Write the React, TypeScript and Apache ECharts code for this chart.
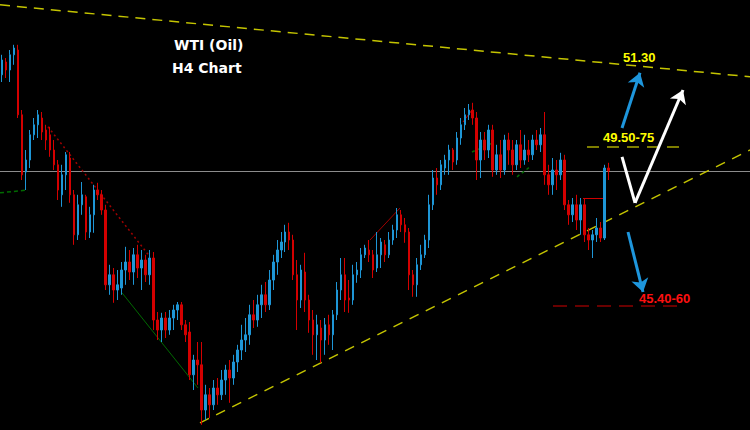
import React, { useEffect, useRef } from "react";
import * as echarts from "echarts";

// ---- candle slots (H4 bars) ----
const SLOT_COUNT = 188;
const categories = Array.from({ length: SLOT_COUNT }, (_, i) => String(i + 1));

// ---- price data (USD/bbl) ----
const opens = [
  51.43, 51.75, 51.55, 51.93, 52.05, 50.43, 49.0, 49.3, 49.93, 50.18,
  50.35, 50.05, 49.93, 49.55, 49.18, 48.43, 48.93, 49.35, 48.43, 47.43,
  48.18, 48.38, 47.5, 47.93, 48.55, 48.43, 48.05, 46.18, 46.43, 46.05,
  46.1, 46.55, 46.75, 46.5, 46.93, 46.6, 46.8, 46.43, 46.85, 45.3,
  45.05, 45.35, 45.05, 45.35, 45.55, 45.68, 45.18, 45.0, 43.93, 44.3,
  44.18, 43.05, 43.43, 43.18, 43.6, 43.43, 43.8, 44.05, 43.85, 44.25,
  44.55, 44.8, 44.93, 45.43, 45.3, 45.68, 45.93, 45.68, 46.3, 46.75,
  47.05, 47.25, 47.5, 47.3, 46.43, 45.8, 46.5, 45.8, 45.3, 44.93,
  45.1, 44.8, 45.18, 44.93, 45.43, 46.05, 46.43, 45.85, 45.8, 46.43,
  46.55, 46.93, 47.05, 46.93, 46.6, 46.93, 47.18, 46.93, 47.3, 47.55,
  47.93, 47.68, 47.5, 46.43, 46.18, 46.68, 46.93, 47.3, 48.18, 48.85,
  48.68, 49.1, 49.3, 49.55, 49.3, 49.85, 50.18, 50.43, 50.55, 50.35,
  49.3, 49.8, 49.55, 50.05, 49.05, 49.43, 49.05, 49.8, 49.55, 49.18,
  49.68, 49.3, 49.55, 49.43, 49.8, 49.68, 49.93, 48.93, 48.68, 49.05,
  48.93, 49.3, 48.18, 47.93, 48.18, 47.8, 48.18, 47.43, 47.3, 47.43,
  47.6, 47.35, 49.1,
];
const closes = [
  51.8, 51.55, 51.93, 52.1, 50.43, 48.93, 49.3, 49.93, 50.18, 50.43,
  50.0, 49.8, 49.55, 49.18, 48.55, 48.93, 49.43, 48.43, 47.43, 48.18,
  48.43, 47.5, 47.93, 48.55, 48.43, 48.05, 46.18, 46.43, 46.05, 46.18,
  46.55, 46.75, 46.5, 46.93, 46.6, 46.8, 46.43, 46.85, 45.3, 45.05,
  45.35, 45.05, 45.35, 45.55, 45.68, 45.18, 44.93, 43.93, 44.3, 44.18,
  43.05, 43.43, 43.18, 43.6, 43.43, 43.8, 44.05, 43.85, 44.25, 44.55,
  44.8, 44.93, 45.43, 45.3, 45.68, 45.93, 45.68, 46.3, 46.75, 47.05,
  47.25, 47.5, 47.3, 46.43, 45.8, 46.55, 45.8, 45.3, 44.93, 45.18,
  44.8, 45.18, 44.93, 45.43, 46.05, 46.43, 45.8, 45.8, 46.43, 46.55,
  46.93, 47.1, 46.93, 46.55, 46.93, 47.25, 46.93, 47.3, 47.55, 47.93,
  47.68, 47.5, 46.43, 46.18, 46.68, 46.93, 47.3, 48.18, 48.85, 48.68,
  49.18, 49.3, 49.55, 49.25, 49.85, 50.18, 50.43, 50.55, 50.35, 49.3,
  49.8, 49.55, 50.05, 49.05, 49.43, 49.05, 49.8, 49.55, 49.18, 49.68,
  49.3, 49.55, 49.43, 49.8, 49.68, 49.93, 48.93, 48.68, 49.05, 48.93,
  49.3, 48.18, 47.93, 48.18, 47.8, 48.18, 47.43, 47.3, 47.43, 47.6,
  47.35, 49.1, 49.03,
];
const lows = [
  51.25, 51.35, 51.25, 51.68, 50.35, 48.8, 48.55, 49.1, 49.8, 49.85,
  49.8, 49.55, 49.38, 49.05, 48.3, 48.13, 48.55, 48.23, 47.18, 47.3,
  47.93, 47.3, 47.35, 47.48, 48.3, 47.93, 46.05, 45.93, 45.73, 45.8,
  45.93, 46.18, 46.3, 46.18, 46.35, 46.05, 46.25, 46.18, 45.05, 44.8,
  44.75, 44.85, 44.93, 45.05, 45.3, 45.05, 44.75, 43.8, 43.55, 43.68,
  42.68, 42.8, 42.85, 43.05, 43.18, 43.3, 43.43, 43.23, 43.68, 44.0,
  44.3, 44.5, 44.68, 45.1, 45.13, 45.35, 45.5, 45.55, 46.05, 46.43,
  46.85, 47.0, 47.05, 46.3, 45.05, 45.6, 45.5, 44.98, 44.43, 44.3,
  44.23, 44.43, 44.68, 44.55, 45.3, 45.8, 45.5, 45.48, 45.68, 46.23,
  46.35, 46.85, 46.75, 46.35, 46.5, 46.6, 46.75, 46.85, 47.18, 47.35,
  47.5, 47.23, 46.05, 45.88, 45.88, 46.55, 46.85, 47.1, 48.05, 48.43,
  48.55, 48.93, 48.93, 49.05, 49.18, 49.68, 50.05, 50.3, 50.18, 48.8,
  48.85, 49.3, 49.35, 48.88, 48.93, 48.85, 48.93, 49.18, 48.93, 49.05,
  49.1, 49.18, 49.25, 49.3, 49.55, 49.5, 48.68, 48.43, 48.43, 48.55,
  48.8, 48.05, 47.68, 47.75, 47.55, 47.43, 47.25, 47.05, 46.85, 47.25,
  47.25, 47.3, 48.8,
];
const highs = [
  51.93, 51.85, 52.05, 52.18, 52.18, 50.55, 49.55, 50.05, 50.35, 50.55,
  50.5, 50.18, 50.13, 49.8, 49.3, 49.18, 49.5, 49.5, 48.55, 48.43,
  48.75, 48.43, 48.13, 48.68, 48.73, 48.55, 48.18, 46.68, 46.6, 46.55,
  46.75, 47.13, 47.05, 47.1, 47.18, 47.05, 46.93, 47.05, 47.0, 45.5,
  45.48, 45.5, 45.55, 45.68, 45.75, 45.75, 45.3, 45.25, 44.43, 44.75,
  44.75, 43.68, 43.6, 43.8, 43.85, 44.05, 44.18, 44.3, 44.43, 44.68,
  45.18, 45.35, 45.68, 45.8, 45.93, 46.18, 46.25, 46.55, 46.93, 47.3,
  47.5, 47.68, 47.73, 47.43, 46.8, 46.68, 46.98, 45.93, 45.55, 45.43,
  45.3, 45.35, 45.43, 45.55, 46.25, 46.85, 46.85, 46.3, 46.68, 46.75,
  47.1, 47.18, 47.3, 47.05, 47.5, 47.35, 47.3, 47.5, 47.68, 48.1,
  48.05, 47.85, 47.6, 46.55, 46.85, 47.18, 47.43, 48.43, 49.05, 49.1,
  49.3, 49.43, 49.68, 49.6, 50.0, 50.35, 50.6, 50.7, 50.73, 50.5,
  50.0, 50.0, 50.18, 50.18, 49.68, 49.8, 49.93, 49.98, 49.8, 49.8,
  50.05, 49.93, 49.8, 49.93, 50.05, 50.1, 50.5, 49.18, 49.35, 49.3,
  49.48, 49.43, 48.3, 48.35, 48.43, 48.35, 48.35, 47.6, 47.55, 47.85,
  47.75, 49.18, 49.23,
];

// ---- price window ----
const Y_MIN = 42.55;
const Y_MAX = 53.3;

// ---- drawn studies: [slot, price] endpoints ----
const resistanceLine = [[0, 53.18], [188, 51.38]];
const supportLine = [[50.13, 42.73], [188, 49.55]];
const bidLine = [[0, 49.03], [188, 49.03]];
const redDottedTrend = [[12.03, 50.13], [37.6, 46.88]];
const greenDottedLeft = [[0, 48.48], [7.02, 48.55]];
const greenTrend = [[30.58, 45.98], [49.63, 43.6]];
const redTrendMid = [[92.75, 47.3], [100.27, 48.1]];
const redTrendTop = [[116.06, 50.25], [118.31, 50.55]];
const greenDottedMid1 = [[118.31, 49.5], [123.58, 49.73]];
const greenDottedMid2 = [[129.6, 48.88], [132.85, 49.13]];
const redStep = [[146.14, 48.35], [151.66, 48.35]];
const targetUpperLevel = [[147.14, 49.63], [171.21, 49.63]];
const targetLowerLevel = [[138.62, 45.65], [169.7, 45.65]];
const arrowUp = [[155.92, 50.1], [160.43, 51.48]];
const arrowDown = [[157.42, 47.5], [161.18, 46.0]];
const vLeg1 = [[155.92, 49.38], [159.18, 48.23]];
const vLeg2 = [[159.18, 48.23], [171.21, 51.05]];

// ---- labels ----
const titleLines = ["WTI (Oil)", "H4 Chart"];
const labelTop = "51.30";
const labelMid = "49.50-75";
const labelLow = "45.40-60";

const YELLOW_LINE = "#c4c400";
const DARK_RED = "#a00000";
const DARK_GREEN = "#006a00";
const BLUE = "#1e96dc";

export default function App() {
  const ref = useRef<HTMLDivElement | null>(null);

  useEffect(() => {
    if (!ref.current) return;
    const chart = echarts.init(ref.current, undefined, { renderer: "svg" });
    const candleData = opens.map((o, i) => [o, closes[i], lows[i], highs[i]]);

    const seg = (coords: number[][], color: string, width: number, type: any) => ({
      coords,
      lineStyle: { color, width, type, opacity: 1 },
    });

    const option: any = {
      animation: false,
      backgroundColor: "#000000",
      grid: { left: 0, right: 0, top: 0, bottom: 0, containLabel: false },
      xAxis: [
        {
          type: "category",
          data: categories,
          show: false,
          boundaryGap: true,
        },
        { type: "value", min: 0, max: SLOT_COUNT, show: false },
      ],
      yAxis: [
        { type: "value", min: Y_MIN, max: Y_MAX, show: false, splitLine: { show: false } },
      ],
      series: [
        {
          type: "lines",
          coordinateSystem: "cartesian2d",
          xAxisIndex: 1,
          yAxisIndex: 0,
          silent: true,
          z: 1,
          symbol: ["none", "none"],
          data: [
            seg(bidLine, "#8c8c8c", 1, "solid"),
            seg(resistanceLine, YELLOW_LINE, 1.5, [10, 7]),
            seg(supportLine, YELLOW_LINE, 1.5, [10, 8]),
            seg(redDottedTrend, DARK_RED, 1.5, [2, 3]),
            seg(greenDottedLeft, DARK_GREEN, 1.5, [4, 3]),
            seg(greenTrend, DARK_GREEN, 1, "solid"),
            seg(redTrendMid, DARK_RED, 1, "solid"),
            seg(redTrendTop, "#c00000", 1, "solid"),
            seg(greenDottedMid1, DARK_GREEN, 1.5, [3, 3]),
            seg(greenDottedMid2, DARK_GREEN, 1.5, [3, 3]),
            seg(redStep, "#d00000", 1, "solid"),
            seg(targetUpperLevel, "#a8a800", 1.5, [12, 8]),
            seg(targetLowerLevel, "#8c0000", 1.5, [14, 8]),
          ],
        },
        {
          type: "candlestick",
          xAxisIndex: 0,
          yAxisIndex: 0,
          z: 2,
          barWidth: 2,
          data: candleData,
          itemStyle: {
            color: "#1e96d6",
            color0: "#d40000",
            borderColor: "#1e96d6",
            borderColor0: "#d40000",
            borderWidth: 1,
          },
        },
        {
          type: "lines",
          coordinateSystem: "cartesian2d",
          xAxisIndex: 1,
          yAxisIndex: 0,
          silent: true,
          z: 3,
          symbol: ["none", "none"],
          data: [seg(vLeg1, "#ffffff", 3, "solid")],
        },
        {
          type: "lines",
          coordinateSystem: "cartesian2d",
          xAxisIndex: 1,
          yAxisIndex: 0,
          silent: true,
          z: 3,
          symbol: ["none", "arrow"],
          symbolSize: 13,
          data: [
            seg(arrowUp, BLUE, 3, "solid"),
            seg(arrowDown, BLUE, 3, "solid"),
            seg(vLeg2, "#ffffff", 3, "solid"),
          ],
        },
      ],
      graphic: [
        {
          type: "text",
          x: 174,
          y: 45,
          z: 10,
          style: {
            text: titleLines[0],
            fill: "#ffffff",
            fontFamily: "DejaVu Sans",
            fontWeight: "bold",
            fontSize: 14,
            verticalAlign: "middle",
          },
        },
        {
          type: "text",
          x: 172,
          y: 68,
          z: 10,
          style: {
            text: titleLines[1],
            fill: "#ffffff",
            fontFamily: "DejaVu Sans",
            fontWeight: "bold",
            fontSize: 14,
            verticalAlign: "middle",
          },
        },
        {
          type: "text",
          x: 623,
          y: 57,
          z: 10,
          style: {
            text: labelTop,
            fill: "#ffff00",
            fontFamily: "Liberation Sans",
            fontWeight: "bold",
            fontSize: 13,
            verticalAlign: "middle",
          },
        },
        {
          type: "text",
          x: 603,
          y: 137,
          z: 10,
          style: {
            text: labelMid,
            fill: "#ffff00",
            fontFamily: "Liberation Sans",
            fontWeight: "bold",
            fontSize: 13,
            verticalAlign: "middle",
          },
        },
        {
          type: "text",
          x: 639,
          y: 298,
          z: 10,
          style: {
            text: labelLow,
            fill: "#ff1010",
            fontFamily: "Liberation Sans",
            fontWeight: "bold",
            fontSize: 13,
            verticalAlign: "middle",
          },
        },
      ],
    };

    chart.setOption(option);
    return () => {
      chart.dispose();
    };
  }, []);

  return (
    <div
      ref={ref}
      style={{ position: "fixed", left: 0, top: 0, width: 750, height: 430, background: "#000" }}
    />
  );
}
